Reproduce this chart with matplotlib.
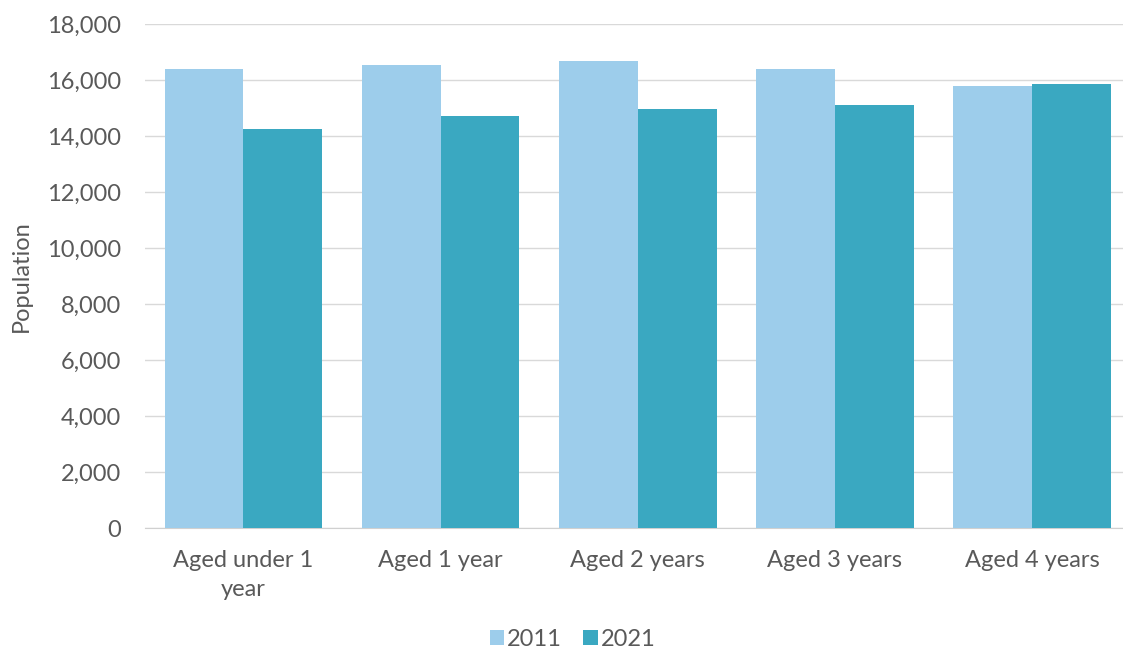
import numpy as np
import matplotlib.pyplot as plt
from matplotlib.ticker import FuncFormatter

plt.rcParams['font.family'] = ['Lato', 'DejaVu Sans']

categories = ['Aged under 1\nyear', 'Aged 1 year', 'Aged 2 years', 'Aged 3 years', 'Aged 4 years']
pop_2011 = [16390, 16540, 16680, 16390, 15800]
pop_2021 = [14240, 14730, 14970, 15120, 15860]
series_labels = ['2011', '2021']

text_color = '#595959'

fig = plt.figure(figsize=(11.23, 6.52), dpi=100)
ax = fig.add_axes([0.129, 0.19, 0.8777, 0.773])

x = np.arange(len(categories))
w = 0.40
ax.bar(x - w / 2, pop_2011, width=w, color='#9DCDEB', label=series_labels[0], zorder=3)
ax.bar(x + w / 2, pop_2021, width=w, color='#3AA8C1', label=series_labels[1], zorder=3)

ax.set_xlim(-0.5, len(categories) - 0.5)
ax.set_ylim(0, 18000)
ax.set_yticks(np.arange(0, 18001, 2000))
ax.yaxis.set_major_formatter(FuncFormatter(lambda v, p: f'{int(v):,}'))
ax.grid(axis='y', color='#D9D9D9', linewidth=1, zorder=0)

ax.set_xticks(x)
ax.set_xticklabels(categories, fontsize=17, color=text_color, linespacing=1.45)
ax.tick_params(axis='y', labelsize=17, labelcolor=text_color, length=0, pad=17)
ax.tick_params(axis='x', length=0, pad=16)

for s in ['top', 'right', 'left']:
    ax.spines[s].set_visible(False)
ax.spines['bottom'].set_color('#D0D0D0')

ax.set_ylabel('Population', fontsize=17, color=text_color, labelpad=11)

fig.legend(loc='lower center', bbox_to_anchor=(0.51, -0.03), ncol=2, frameon=False,
           fontsize=17, labelcolor=text_color, handlelength=0.6, handleheight=0.6,
           handletextpad=0.15, columnspacing=0.9)

fig.savefig('out.png', dpi=100)
